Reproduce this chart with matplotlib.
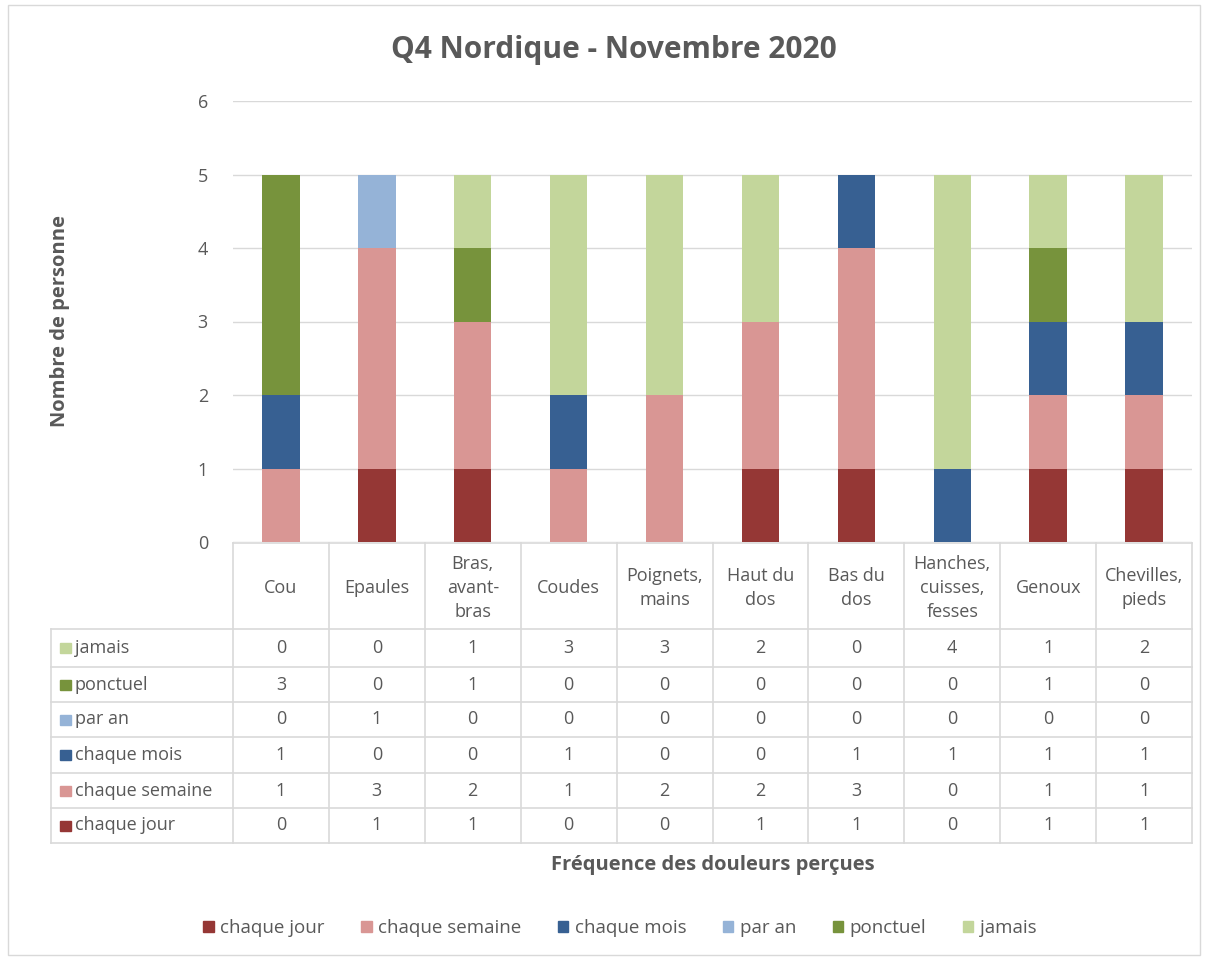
import matplotlib
matplotlib.use("Agg")
import matplotlib.pyplot as plt
from matplotlib.patches import Rectangle
import numpy as np

plt.rcParams['font.family'] = ['Open Sans', 'DejaVu Sans']

categories = ["Cou", "Epaules", "Bras,\navant-\nbras", "Coudes", "Poignets,\nmains",
              "Haut du\ndos", "Bas du\ndos", "Hanches,\ncuisses,\nfesses", "Genoux",
              "Chevilles,\npieds"]
series_names = ["chaque jour", "chaque semaine", "chaque mois", "par an", "ponctuel", "jamais"]
chaque_jour    = [0, 1, 1, 0, 0, 1, 1, 0, 1, 1]
chaque_semaine = [1, 3, 2, 1, 2, 2, 3, 0, 1, 1]
chaque_mois    = [1, 0, 0, 1, 0, 0, 1, 1, 1, 1]
par_an         = [0, 1, 0, 0, 0, 0, 0, 0, 0, 0]
ponctuel       = [3, 0, 1, 0, 0, 0, 0, 0, 1, 0]
jamais         = [0, 0, 1, 3, 3, 2, 0, 4, 1, 2]
colors = ["#953735", "#D99694", "#376092", "#95B3D7", "#77933C", "#C3D69B"]
yticks = [0, 1, 2, 3, 4, 5, 6]

series_values = [chaque_jour, chaque_semaine, chaque_mois, par_an, ponctuel, jamais]
TXT = "#595959"
GRID = "#D9D9D9"
FS = 13

W, H = 1206, 960
fig = plt.figure(figsize=(W / 100, H / 100), dpi=100)
fig.patch.set_facecolor("white")

fig.add_artist(Rectangle((8 / W, 5 / H), 1 - 14 / W, 1 - 10 / H,
                         transform=fig.transFigure, fill=False, edgecolor=GRID, lw=1))

x0, x1 = 233, 1192
ytop, ybot = 101, 542
ax = fig.add_axes([x0 / W, 1 - ybot / H, (x1 - x0) / W, (ybot - ytop) / H])
n = len(categories)
x = np.arange(n)
bottom = np.zeros(n)
for name, vals, c in zip(series_names, series_values, colors):
    ax.bar(x, vals, bottom=bottom, width=0.39, color=c, label=name, zorder=3)
    bottom += np.array(vals)
ax.set_xlim(-0.5, n - 0.5)
ax.set_ylim(0, 6)
ax.set_yticks(yticks)
ax.set_yticklabels([str(v) for v in yticks], color=TXT, fontsize=FS)
ax.tick_params(axis="y", length=0, pad=18)
ax.set_xticks([])
for s in ax.spines.values():
    s.set_visible(False)
ax.grid(axis="y", color=GRID, lw=1, zorder=0)
ax.set_axisbelow(True)

unit = (x1 - x0) / n
tx0 = 51
tax = fig.add_axes([tx0 / W, 1 - 843 / H, (x1 - tx0) / W, (843 - 543) / H])
left = -0.5 - (x0 - tx0) / unit
tax.set_xlim(left, n - 0.5)
hdr_top, hdr_bot = 543, 629
row_edges = [629, 667, 702, 737, 773, 808, 843]
tax.set_ylim(843, 543)
tax.axis("off")
lc = "#D9D9D9"
for i in range(n + 1):
    tax.plot([i - 0.5, i - 0.5], [hdr_top, 843], color=lc, lw=1.2, clip_on=False)
tax.plot([left, left], [hdr_bot, 843], color=lc, lw=1.2, clip_on=False)
tax.plot([-0.5, n - 0.5], [hdr_top, hdr_top], color=lc, lw=1.2, clip_on=False)
for y in row_edges:
    tax.plot([left, n - 0.5], [y, y], color=lc, lw=1.2, clip_on=False)
for i, cat in enumerate(categories):
    tax.text(i, (hdr_top + hdr_bot) / 2 + 2, cat, ha="center", va="center",
             color=TXT, fontsize=FS, linespacing=1.4)
rows_order = list(range(len(series_names)))[::-1]
for r, si in enumerate(rows_order):
    yc = (row_edges[r] + row_edges[r + 1]) / 2
    tax.add_patch(Rectangle((left + 9 / unit, yc - 5), 11 / unit, 10,
                            color=colors[si], clip_on=False))
    tax.text(left + 24 / unit, yc, series_names[si], ha="left", va="center",
             color=TXT, fontsize=FS)
    for i in range(n):
        tax.text(i, yc, str(series_values[si][i]), ha="center", va="center",
                 color=TXT, fontsize=FS)

fig.text(614 / W, 1 - 50 / H, "Q4 Nordique - Novembre 2020", ha="center", va="center",
         fontsize=21.5, fontweight="bold", color=TXT)
fig.text(60 / W, 1 - 321 / H, "Nombre de personne", ha="center", va="center",
         rotation=90, fontsize=14.5, fontweight="bold", color=TXT)
fig.text(713 / W, 1 - 865 / H, "Fréquence des douleurs perçues", ha="center", va="center",
         fontsize=14.5, fontweight="bold", color=TXT)

handles = [Rectangle((0, 0), 1, 1, color=c) for c in colors]
leg = fig.legend(handles, series_names, loc="center", bbox_to_anchor=(620 / W, 1 - 928 / H),
                 ncol=6, frameon=False, fontsize=13.5, handlelength=0.55, handleheight=0.55,
                 handletextpad=0.35, columnspacing=1.95)
for t in leg.get_texts():
    t.set_color(TXT)

fig.savefig("out.png", dpi=100, facecolor="white")
